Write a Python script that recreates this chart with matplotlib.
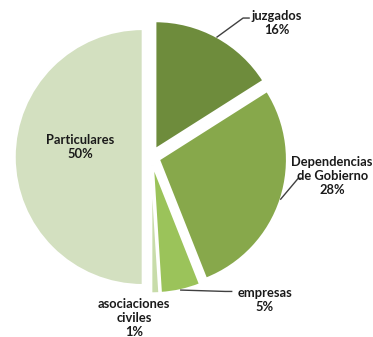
import numpy as np
import matplotlib.pyplot as plt

# datos
labels = ['juzgados', 'Dependencias\nde Gobierno', 'empresas', 'asociaciones\nciviles', 'Particulares']
values = [16, 28, 5, 1, 50]
colors = ['#6e8c3c', '#87a84b', '#9bc35a', '#c8dcaa', '#d3e0c0']
explode = [0.07, 0.065, 0.065, 0.065, 0.065]

# posiciones de etiquetas y codos de las lineas guia (None = sin linea)
label_pos = [(0.98, 1.05), (1.415, -0.15), (0.89, -1.12), (-0.133, -1.258), (-0.555, 0.078)]
elbows = [[(0.719, 1.086), (0.766, 1.086)],
		  [(1.15, -0.166), (1.18, -0.166)],
		  [(0.58, -1.05), (0.63, -1.05)],
		  None, None]

plt.rcParams['font.family'] = ['Lato', 'DejaVu Sans']

fig = plt.figure(figsize=(3.73, 3.37), dpi=100)
ax = fig.add_axes([0, 0, 1, 1])
wedges, _ = ax.pie(values, colors=colors, explode=explode, startangle=90,
				   counterclock=False, radius=1,
				   wedgeprops=dict(edgecolor='white', linewidth=1.5))
ax.set_aspect('auto')
ax.set_xlim(-1.18, 1.734)
ax.set_ylim(-1.406, 1.227)
ax.axis('off')

for w, lab, v, pos, elb in zip(wedges, labels, values, label_pos, elbows):
	ax.text(pos[0], pos[1], f'{lab}\n{v}%', ha='center', va='center',
			fontsize=9.3, fontweight='bold', color='#1a1a1a', linespacing=1.18)
	if elb is None:
		continue
	mid = np.deg2rad((w.theta1 + w.theta2) / 2)
	cx, cy = w.center
	pts = [(cx + w.r * np.cos(mid), cy + w.r * np.sin(mid))] + elb
	xs, ys = zip(*pts)
	ax.plot(xs, ys, color='#404040', lw=1)

fig.savefig('out.png', dpi=100)
